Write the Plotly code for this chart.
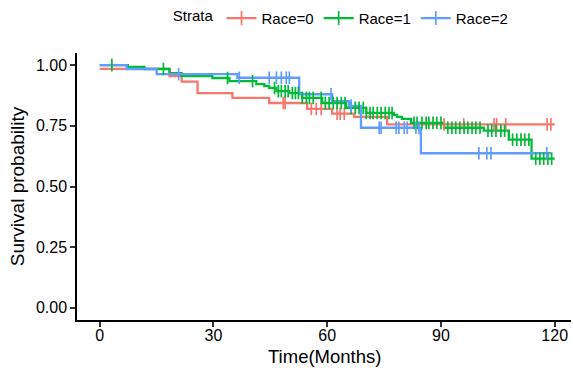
import numpy as np
import plotly.graph_objects as go

# ---- data (months, survival probability) ----
strata = ["Race=0", "Race=1", "Race=2"]
colors = ["#F8766D", "#00BA38", "#619CFF"]

race0_time = [0, 18.4, 21.6, 25.8, 35.0, 44.7, 54.7, 61.3, 67.1, 75.8]
race0_surv = [0.985, 0.955, 0.932, 0.885, 0.865, 0.844, 0.820, 0.800, 0.787, 0.756]
race0_end = 120.0
race0_censor = [48.4, 48.9, 55.8, 57.1, 58.4, 62.6, 63.4, 64.5, 90.8, 96.0,
                104.0, 104.7, 107.1, 118.0, 119.0]

race1_time = [0, 7.4, 11.8, 18.4, 21.6, 29.7, 34.2, 41.3, 43.4, 44.7, 46.6, 50.0,
              53.4, 58.7, 65.0, 70.3, 77.6, 78.4, 79.7, 82.1, 90.8, 101.3, 107.9, 113.9]
race1_surv = [1.0, 0.993, 0.984, 0.967, 0.955, 0.947, 0.934, 0.922, 0.914, 0.906, 0.893, 0.885,
              0.865, 0.844, 0.824, 0.803, 0.795, 0.787, 0.779, 0.762, 0.742, 0.730, 0.693, 0.615]
race1_end = 120.0
race1_censor = [3.2, 16.8, 33.7, 40.3, 46.1, 47.1, 47.9, 48.9, 49.7, 50.8, 51.6, 52.4,
                53.4, 54.5, 55.3, 56.3, 58.4, 59.5, 60.5, 61.6, 62.6, 63.7, 64.7, 66.3,
                67.4, 68.4, 69.5, 70.3, 71.3, 72.1, 73.2, 74.2, 75.3, 76.3, 77.1, 82.9,
                83.7, 85.0, 86.1, 86.8, 87.9, 88.9, 90.0, 91.8, 92.9, 93.9, 95.0, 96.1,
                97.1, 98.2, 99.2, 100.3, 102.4, 103.4, 104.5, 105.8, 106.8, 108.9, 110.0,
                111.1, 112.1, 113.2, 115.0, 116.1, 117.1, 118.2, 119.2]

race2_time = [0, 7.1, 15.0, 36.3, 52.6, 61.3, 65.8, 68.9, 84.7]
race2_surv = [1.0, 0.984, 0.963, 0.948, 0.880, 0.852, 0.832, 0.742, 0.637]
race2_end = 119.0
race2_censor = [20.8, 36.8, 44.7, 46.6, 47.9, 49.2, 50.0, 61.0, 66.3, 73.7, 74.2,
                78.2, 78.9, 80.3, 81.1, 83.4, 84.2, 100.0, 102.1, 103.2, 117.9]

x_ticks = [0, 30, 60, 90, 120]
y_ticks = [0, 0.25, 0.50, 0.75, 1.00]
x_title = "Time(Months)"
y_title = "Survival probability"

groups = [
    (race0_time, race0_surv, race0_end, race0_censor),
    (race1_time, race1_surv, race1_end, race1_censor),
    (race2_time, race2_surv, race2_end, race2_censor),
]


def step_value(times, surv, t):
    idx = np.searchsorted(np.asarray(times), t, side="right") - 1
    return float(np.asarray(surv)[max(idx, 0)])


fig = go.Figure()

# step lines
for (t, s, end, cen), col, name in zip(groups, colors, strata):
    xs = list(t) + [end]
    ys = list(s) + [s[-1]]
    fig.add_trace(go.Scatter(x=xs, y=ys, mode="lines", line=dict(color=col, width=2.3, shape="hv"),
                             showlegend=False, hoverinfo="skip"))

# censor marks
for (t, s, end, cen), col, name in zip(groups, colors, strata):
    cy = [step_value(t, s, c) for c in cen]
    fig.add_trace(go.Scatter(x=cen, y=cy, mode="markers",
                             marker=dict(symbol="line-ns", size=9, color=col,
                                         line=dict(color=col, width=1.7)),
                             showlegend=False, hoverinfo="skip"))

# legend entries
for col, name in zip(colors, strata):
    fig.add_trace(go.Scatter(x=[None], y=[None], mode="lines+markers", name=name,
                             line=dict(color=col, width=2.3),
                             marker=dict(symbol="cross-thin", size=10, color=col,
                                         line=dict(color=col, width=1.7))))

font_family = "Liberation Sans, Arial, sans-serif"

fig.update_layout(
    width=573, height=368,
    margin=dict(l=77, r=2, t=51, b=48),
    paper_bgcolor="white", plot_bgcolor="white",
    font=dict(family=font_family, color="black", size=15),
    legend=dict(orientation="h", x=0.19, xanchor="left", y=1.13, yanchor="middle",
                title=dict(text="Strata", side="left", font=dict(size=15)),
                font=dict(size=15), itemwidth=30, tracegroupgap=0,
                bgcolor="rgba(0,0,0,0)"),
    xaxis=dict(range=[-6, 124.3], tickvals=x_ticks, showgrid=False, zeroline=False,
               showline=True, linecolor="black", linewidth=1.5, automargin=False,
               ticks="outside", ticklen=5, tickwidth=1.5, tickcolor="#333",
               ticklabelstandoff=-5,
               tickfont=dict(size=16, color="black")),
    yaxis=dict(range=[-0.05, 1.05], tickvals=y_ticks, tickformat=".2f", showgrid=False,
               zeroline=False, showline=True, linecolor="black", linewidth=1.5, automargin=False,
               ticks="outside", ticklen=5, tickwidth=1.5, tickcolor="#333",
               tickfont=dict(size=16, color="black"),
               title=dict(text=y_title, font=dict(size=19, color="black"), standoff=6)),
    annotations=[dict(text=x_title, xref="paper", yref="paper", x=0.5, y=0,
                      xanchor="center", yanchor="middle", yshift=-36, showarrow=False,
                      font=dict(size=18.5, color="black"))],
)

fig.write_html("out.html")
